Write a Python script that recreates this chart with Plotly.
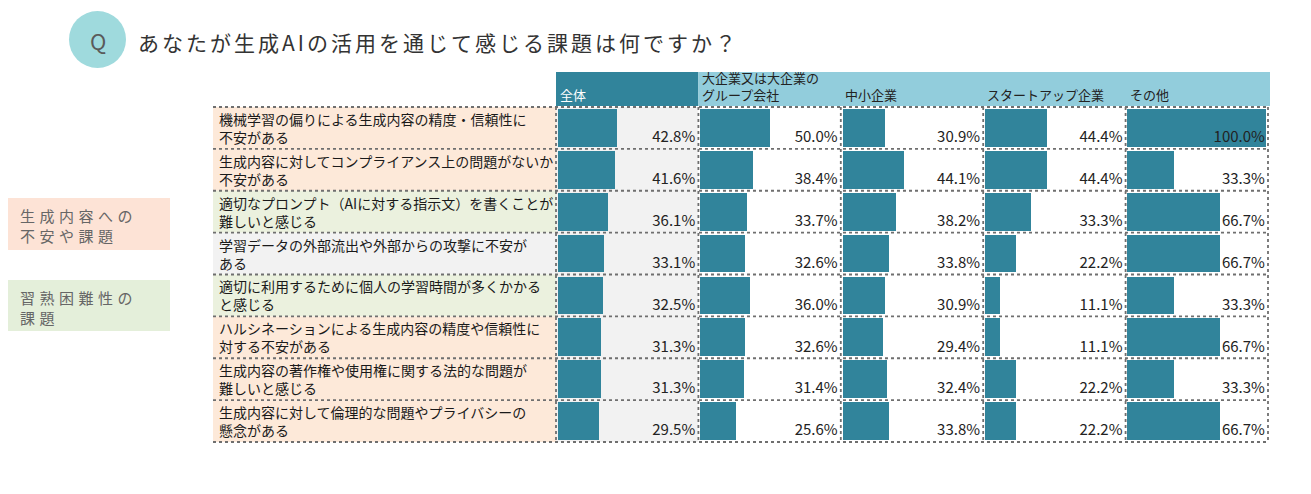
import plotly.graph_objects as go

W, H = 1311, 494

title = "あなたが生成AIの活用を通じて感じる課題は何ですか？"
groups = ["生成内容への<br>不安や課題", "習熟困難性の<br>課題"]

categories = [
    "機械学習の偏りによる生成内容の精度・信頼性に<br>不安がある",
    "生成内容に対してコンプライアンス上の問題がないか<br>不安がある",
    "適切なプロンプト（AIに対する指示文）を書くことが<br>難しいと感じる",
    "学習データの外部流出や外部からの攻撃に不安が<br>ある",
    "適切に利用するために個人の学習時間が多くかかる<br>と感じる",
    "ハルシネーションによる生成内容の精度や信頼性に<br>対する不安がある",
    "生成内容の著作権や使用権に関する法的な問題が<br>難しいと感じる",
    "生成内容に対して倫理的な問題やプライバシーの<br>懸念がある",
]
row_group = ["peach", "peach", "green", "gray", "green", "peach", "peach", "peach"]

columns = ["全体", "大企業又は大企業の<br>グループ会社", "中小企業", "スタートアップ企業", "その他"]

total = [42.8, 41.6, 36.1, 33.1, 32.5, 31.3, 31.3, 29.5]
large = [50.0, 38.4, 33.7, 32.6, 36.0, 32.6, 31.4, 25.6]
sme = [30.9, 44.1, 38.2, 33.8, 30.9, 29.4, 32.4, 33.8]
startup = [44.4, 44.4, 33.3, 22.2, 11.1, 11.1, 22.2, 22.2]
other = [100.0, 33.3, 66.7, 66.7, 33.3, 66.7, 33.3, 66.7]
series = [total, large, sme, startup, other]

FONT = "Noto Sans CJK JP"
TEAL = "#31849b"
LIGHT = "#92cddc"
BG = {"peach": "#fde9d9", "green": "#ebf1de", "gray": "#f2f2f2"}

# layout geometry (pixels)
LBL_X0, TAB_X0, TAB_X1 = 213, 556, 1268
HDR_Y0, ROW_Y0, ROW_Y1 = 72, 107, 442
n = len(categories)
ncol = len(columns)
colw = (TAB_X1 - TAB_X0) / ncol
rowh = (ROW_Y1 - ROW_Y0) / n


def px(x):
    return x / W


def py(y):
    return 1 - y / H


fig = go.Figure()
rows = list(range(n))
for j, vals in enumerate(series):
    fig.add_trace(go.Bar(
        orientation="h", y=rows, x=[v / 100 * 0.975 for v in vals], base=j + 0.012,
        width=0.9, marker=dict(color=TEAL, line=dict(width=0)), showlegend=False,
        hoverinfo="skip",
    ))
    fig.add_trace(go.Scatter(
        x=[j + 0.978] * n, y=[r + 0.25 for r in rows], mode="text",
        text=[f"{v:.1f}%" for v in vals], textposition="middle left",
        textfont=dict(family=FONT, size=15, color="#222222"), showlegend=False,
        hoverinfo="skip", cliponaxis=False,
    ))

shapes = []
# cell backgrounds
shapes.append(dict(type="rect", xref="paper", yref="paper", layer="below",
                   x0=px(TAB_X0), x1=px(TAB_X0 + colw), y0=py(ROW_Y1), y1=py(ROW_Y0),
                   fillcolor="#f2f2f2", line=dict(width=0)))
for i in range(n):
    shapes.append(dict(type="rect", xref="paper", yref="paper", layer="below",
                       x0=px(LBL_X0), x1=px(TAB_X0), y0=py(ROW_Y0 + (i + 1) * rowh),
                       y1=py(ROW_Y0 + i * rowh), fillcolor=BG[row_group[i]], line=dict(width=0)))
# header
shapes.append(dict(type="rect", xref="paper", yref="paper", layer="below",
                   x0=px(TAB_X0), x1=px(TAB_X0 + colw), y0=py(ROW_Y0 - 1), y1=py(HDR_Y0),
                   fillcolor=TEAL, line=dict(width=0)))
shapes.append(dict(type="rect", xref="paper", yref="paper", layer="below",
                   x0=px(TAB_X0 + colw), x1=px(TAB_X1 + 2), y0=py(ROW_Y0 - 1), y1=py(HDR_Y0),
                   fillcolor=LIGHT, line=dict(width=0)))
# grid lines
for i in range(n + 1):
    y = ROW_Y0 + i * rowh
    shapes.append(dict(type="line", xref="paper", yref="paper", layer="above",
                       x0=px(LBL_X0), x1=px(TAB_X1), y0=py(y), y1=py(y),
                       line=dict(color="#6f6f6f", width=2.2 if i in (0, n) else 1.8, dash="dot")))
for j in range(ncol + 1):
    x = TAB_X0 + j * colw
    shapes.append(dict(type="line", xref="paper", yref="paper", layer="above",
                       x0=px(x), x1=px(x), y0=py(ROW_Y0), y1=py(ROW_Y1),
                       line=dict(color="#6f6f6f", width=1.8, dash="dot")))
# title circle
shapes.append(dict(type="circle", xref="paper", yref="paper", layer="below",
                   x0=px(69), x1=px(126), y0=py(68), y1=py(11),
                   fillcolor="#9fdadd", line=dict(width=0)))
# group boxes
shapes.append(dict(type="rect", xref="paper", yref="paper", layer="below",
                   x0=px(8), x1=px(170), y0=py(250), y1=py(198),
                   fillcolor="#fde3d6", line=dict(width=0)))
shapes.append(dict(type="rect", xref="paper", yref="paper", layer="below",
                   x0=px(8), x1=px(170), y0=py(331), y1=py(280),
                   fillcolor="#e4efda", line=dict(width=0)))

ann = []
ann.append(dict(text="Q", x=px(97.5), y=py(40), xref="paper", yref="paper", showarrow=False,
                font=dict(family=FONT, size=22, color="#5a5a5a"), xanchor="center", yanchor="middle"))
ann.append(dict(text=title, x=px(136), y=py(42), xref="paper", yref="paper", showarrow=False,
                font=dict(family=FONT, size=21, color="#333333"), xanchor="left", yanchor="middle",
                align="left"))
ann.append(dict(text=groups[0], x=px(18), y=py(225), xref="paper", yref="paper", showarrow=False,
                font=dict(family=FONT, size=15, color="#666666"), xanchor="left", yanchor="middle",
                align="left"))
ann.append(dict(text=groups[1], x=px(18), y=py(307), xref="paper", yref="paper", showarrow=False,
                font=dict(family=FONT, size=15, color="#666666"), xanchor="left", yanchor="middle",
                align="left"))
for i, c in enumerate(categories):
    ann.append(dict(text=c, x=px(217), y=py(ROW_Y0 + (i + 0.5) * rowh), xref="paper", yref="paper",
                    showarrow=False, font=dict(family=FONT, size=14, color="#1a1a1a"),
                    xanchor="left", yanchor="middle", align="left"))
for j, c in enumerate(columns):
    ann.append(dict(text=c, x=px(TAB_X0 + j * colw + 2), y=py(ROW_Y0 - 1), xref="paper", yref="paper",
                    showarrow=False,
                    font=dict(family=FONT, size=13, color="#ffffff" if j == 0 else "#222222"),
                    xanchor="left", yanchor="bottom", align="left"))

fig.update_layout(
    width=W, height=H, margin=dict(l=0, r=0, t=0, b=0),
    paper_bgcolor="white", plot_bgcolor="rgba(0,0,0,0)",
    barmode="overlay", bargap=0,
    xaxis=dict(domain=[px(TAB_X0), px(TAB_X1)], range=[0, ncol], visible=False, fixedrange=True),
    yaxis=dict(domain=[py(ROW_Y1), py(ROW_Y0)], range=[n - 0.5, -0.5], visible=False, fixedrange=True),
    shapes=shapes, annotations=ann,
)

post = """
document.body.style.margin = '0';
var t = document.querySelectorAll('g.annotation text.annotation-text');
if (t.length > 3) {
  t[1].style.letterSpacing = '3px';
  t[2].style.letterSpacing = '4.5px';
  t[3].style.letterSpacing = '4.5px';
}
"""
fig.write_html("out.html", post_script=post, config={"displayModeBar": False})
